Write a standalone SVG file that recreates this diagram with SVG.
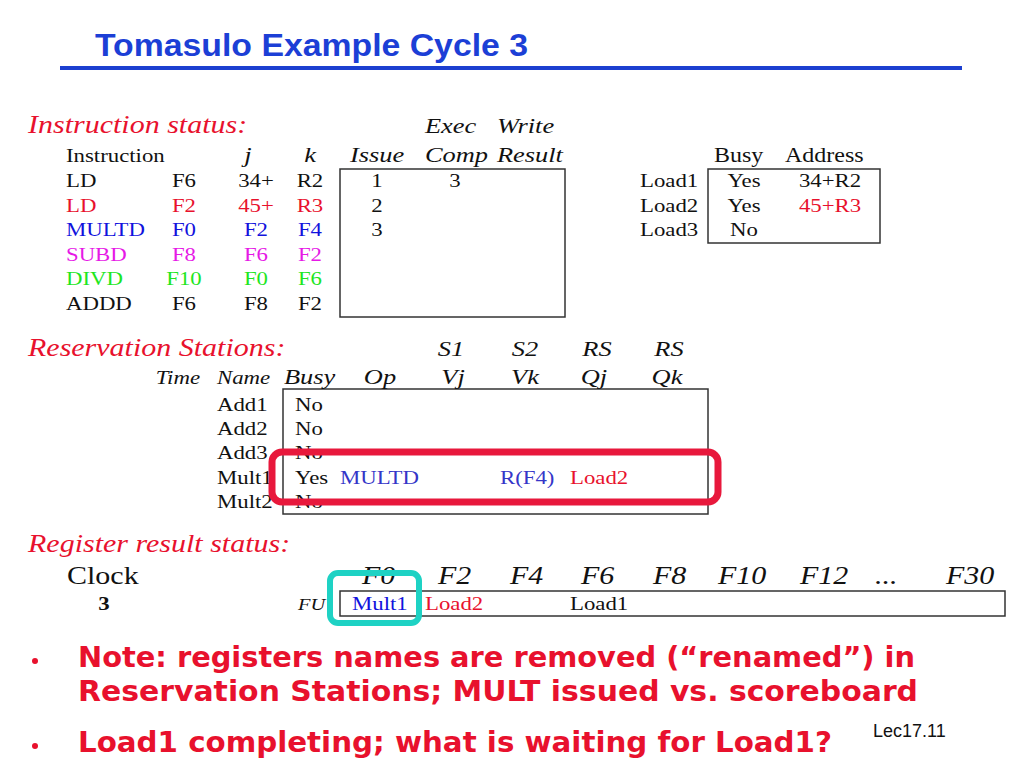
<svg xmlns="http://www.w3.org/2000/svg" width="1024" height="768" viewBox="0 0 1024 768">
<style>
.t{font-family:"Liberation Serif","Times New Roman",serif;font-size:19px;fill:#111}
.h{font-family:"Liberation Serif","Times New Roman",serif;font-size:22px;font-style:italic;fill:#111}
.hs{font-family:"Liberation Serif","Times New Roman",serif;font-size:19px;font-style:italic;fill:#111}
.sec{font-family:"Liberation Serif","Times New Roman",serif;font-size:25px;font-style:italic;fill:#e8112d}
.big{font-family:"Liberation Serif","Times New Roman",serif;font-size:25px;font-style:italic;fill:#111}
.clk{font-family:"Liberation Serif","Times New Roman",serif;font-size:25px;fill:#111}
.red{fill:#e8112d}.blue{fill:#1212dd}.mag{fill:#e619e6}.grn{fill:#1ee61e}.pb{fill:#3535c8}
.m{text-anchor:middle}.e{text-anchor:end}
.box{fill:none;stroke:#333;stroke-width:1.5}
.bul{font-family:"DejaVu Sans Condensed","DejaVu Sans",sans-serif;font-weight:bold;font-size:28px;fill:#e8112d}
</style>
<rect width="1024" height="768" fill="#fff"/>
<g id="title">
<text x="95" y="56" font-family="Liberation Sans,Arial,sans-serif" font-weight="bold" font-size="32" fill="#1c3fd6" textLength="433" lengthAdjust="spacingAndGlyphs">Tomasulo Example Cycle 3</text>
<line x1="60" y1="68" x2="962" y2="68" stroke="#1c3fd0" stroke-width="4"/>
</g>
<g id="instruction-status">
<rect class="box" x="340" y="169" width="225" height="148"/>
<g transform="scale(1.2 1)">
<text class="sec" x="23.33" y="133">Instruction status:</text>
<text class="h" x="354.17" y="133">Exec</text>
<text class="h" x="414.17" y="133">Write</text>
<text class="t" x="55" y="162">Instruction</text>
<text class="h m" x="206.67" y="162">j</text>
<text class="h m" x="258.33" y="162">k</text>
<text class="h" x="291.67" y="162">Issue</text>
<text class="h" x="354.17" y="162">Comp</text>
<text class="h" x="414.17" y="162">Result</text>
<g class="t">
<text x="55" y="187">LD</text><text class="m" x="153.33" y="187">F6</text><text class="m" x="213.33" y="187">34+</text><text class="m" x="258.33" y="187">R2</text>
<text class="red" x="55" y="212">LD</text><text class="m red" x="153.33" y="212">F2</text><text class="m red" x="213.33" y="212">45+</text><text class="m red" x="258.33" y="212">R3</text>
<text class="blue" x="55" y="236">MULTD</text><text class="m blue" x="153.33" y="236">F0</text><text class="m blue" x="213.33" y="236">F2</text><text class="m blue" x="258.33" y="236">F4</text>
<text class="mag" x="55" y="261">SUBD</text><text class="m mag" x="153.33" y="261">F8</text><text class="m mag" x="213.33" y="261">F6</text><text class="m mag" x="258.33" y="261">F2</text>
<text class="grn" x="55" y="285">DIVD</text><text class="m grn" x="153.33" y="285">F10</text><text class="m grn" x="213.33" y="285">F0</text><text class="m grn" x="258.33" y="285">F6</text>
<text x="55" y="310">ADDD</text><text class="m" x="153.33" y="310">F6</text><text class="m" x="213.33" y="310">F8</text><text class="m" x="258.33" y="310">F2</text>
<text class="m" x="314.17" y="187">1</text><text class="m" x="379.17" y="187">3</text>
<text class="m" x="314.17" y="212">2</text>
<text class="m" x="314.17" y="236">3</text>
</g>
</g>
</g>
<g id="load-buffers">
<rect class="box" x="708" y="169" width="172" height="74"/>
<g transform="scale(1.2 1)" class="t">
<text x="595" y="162" style="font-size:20px">Busy</text><text x="654.17" y="162" style="font-size:20px">Address</text>
<text x="533.33" y="187">Load1</text><text class="m" x="620" y="187">Yes</text><text class="m" x="691.67" y="187">34+R2</text>
<text x="533.33" y="212">Load2</text><text class="m" x="620" y="212">Yes</text><text class="m red" x="691.67" y="212">45+R3</text>
<text x="533.33" y="236">Load3</text><text class="m" x="620" y="236">No</text>
</g>
</g>
<g id="reservation-stations">
<rect class="box" x="283" y="389" width="425" height="125"/>
<g transform="scale(1.2 1)">
<text class="sec" x="23.33" y="356">Reservation Stations:</text>
<text class="h m" x="375.83" y="356">S1</text><text class="h m" x="437.5" y="356">S2</text><text class="h m" x="497.5" y="356">RS</text><text class="h m" x="557.5" y="356">RS</text>
<text class="hs e" x="166.67" y="384">Time</text>
<text class="hs" x="180.83" y="384">Name</text>
<text class="h" x="236.67" y="384">Busy</text>
<text class="h m" x="316.67" y="384">Op</text>
<text class="h m" x="377.5" y="384">Vj</text>
<text class="h m" x="437.5" y="384">Vk</text>
<text class="h m" x="495" y="384">Qj</text>
<text class="h m" x="555.83" y="384">Qk</text>
<g class="t">
<text x="180.83" y="411">Add1</text><text x="245.83" y="411">No</text>
<text x="180.83" y="435">Add2</text><text x="245.83" y="435">No</text>
<text x="180.83" y="459">Add3</text><text x="245.83" y="459">No</text>
<text x="180.83" y="484">Mult1</text><text x="245.83" y="484">Yes</text><text class="pb" x="283.33" y="484">MULTD</text><text class="pb" x="416.67" y="484">R(F4)</text><text class="red" x="475" y="484">Load2</text>
<text x="180.83" y="508">Mult2</text><text x="245.83" y="508">No</text>
</g>
</g>
</g>
<g id="register-status">
<rect class="box" x="340" y="591" width="665" height="25"/>
<g transform="scale(1.2 1)">
<text class="sec" x="23.33" y="552">Register result status:</text>
<text class="clk" x="55.83" y="584">Clock</text>
<text class="big" x="301.67" y="584">F0</text><text class="big" x="365" y="584">F2</text><text class="big" x="425" y="584">F4</text><text class="big" x="484.17" y="584">F6</text><text class="big" x="544.17" y="584">F8</text><text class="big" x="598.33" y="584">F10</text><text class="big" x="666.67" y="584">F12</text><text class="big" x="729.17" y="584">...</text><text class="big" x="788.33" y="584">F30</text>
<text class="t m" x="86.67" y="610" style="font-weight:bold">3</text>
<text class="hs e" x="271" y="610" style="font-size:17px">FU</text>
<text class="t blue" x="293.33" y="610">Mult1</text>
<text class="t red" x="354.17" y="610">Load2</text>
<text class="t" x="475" y="610">Load1</text>
</g>
</g>
<g id="highlights" fill="none">
<rect x="272" y="452" width="446" height="50" rx="10" stroke="#e8183c" stroke-width="7"/>
<rect x="330" y="573" width="89" height="50" rx="8" stroke="#1ed2c4" stroke-width="6"/>
</g>
<g id="notes">
<circle cx="35" cy="661" r="3" fill="#e8112d"/>
<text class="bul" x="78" y="667" textLength="837" lengthAdjust="spacingAndGlyphs">Note: registers names are removed (“renamed”) in</text>
<text class="bul" x="78" y="701" textLength="840" lengthAdjust="spacingAndGlyphs">Reservation Stations; MULT issued vs. scoreboard</text>
<circle cx="35" cy="746" r="3" fill="#e8112d"/>
<text class="bul" x="78" y="752" textLength="754" lengthAdjust="spacingAndGlyphs">Load1 completing; what is waiting for Load1?</text>
<text x="873" y="737" font-family="Liberation Sans,Arial,sans-serif" font-size="18" fill="#111">Lec17.11</text>
</g>
</svg>
